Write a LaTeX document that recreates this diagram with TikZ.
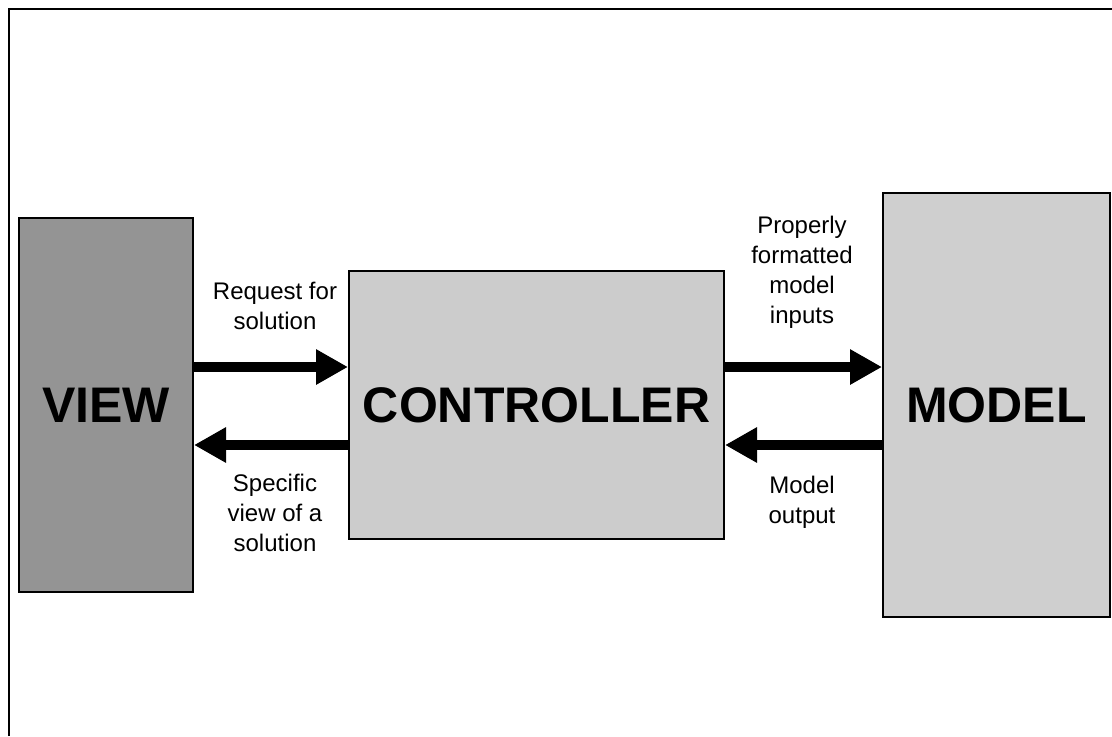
\documentclass[tikz,border=0pt]{standalone}
\usepackage{fontspec}
\setmainfont{Liberation Sans}
\usetikzlibrary{arrows.meta}
\begin{document}
\begin{tikzpicture}[x=0.75pt,y=-0.75pt,
  blockbox/.style={draw=black, line width=1.5pt, inner sep=0pt, font=\fontsize{37.5}{40}\selectfont\bfseries},
  lbl/.style={align=center, font=\fontsize{18}{22.5}\selectfont, inner sep=0pt},
  bigarrow/.style={line width=7.5pt, -{Triangle[length=24pt,width=25pt]}}]
\useasboundingbox (0,0) rectangle (1112,736);
\draw[line width=2pt] (9,736) -- (9,9) -- (1112,9);
\node[blockbox, fill=black!42, minimum width=130.5pt, minimum height=280.5pt] (view) at (106,405) {VIEW};
\node[blockbox, fill=black!20, minimum width=281.25pt, minimum height=201pt] (ctrl) at (536.5,405) {CONTROLLER};
\node[blockbox, fill=black!19, minimum width=170.25pt, minimum height=318pt] (model) at (996.5,405) {MODEL};
\coordinate (ya) at (0,367);
\coordinate (yb) at (0,445);
\draw[bigarrow] (view.east |- ya) -- (ctrl.west |- ya);
\draw[bigarrow] (ctrl.west |- yb) -- (view.east |- yb);
\draw[bigarrow] (ctrl.east |- ya) -- (model.west |- ya);
\draw[bigarrow] (model.west |- yb) -- (ctrl.east |- yb);
\node[lbl] (l1) at (275,306) {Request for\\solution};
\node[lbl] (l2) at (275,513) {Specific\\view of a\\solution};
\node[lbl] (l3) at (802,272) {Properly\\formatted\\model\\inputs};
\node[lbl] (l4) at (802,502) {Model\\output};
\end{tikzpicture}
\end{document}
